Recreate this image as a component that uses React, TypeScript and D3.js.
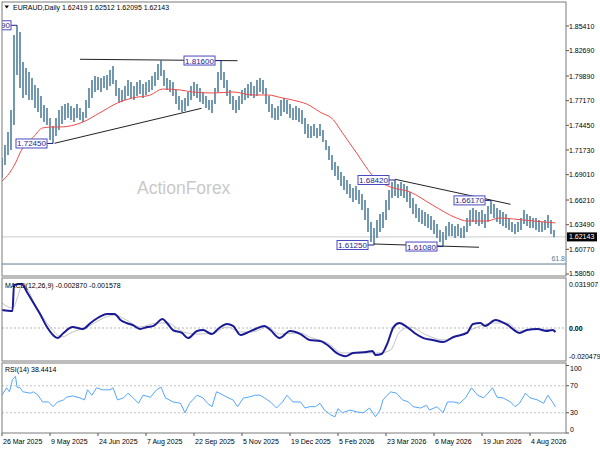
import React from 'react';
import * as d3 from 'd3';

const FONT = '"Liberation Sans", Arial, sans-serif';

// ---- data ----
const headerQuote = [1.62419, 1.62512, 1.62095, 1.62143];
const macdReadout = [-0.00287, -0.001578];
const rsiReadout = 38.4414;
const BARS_PER_POINT = 2; // each price point covers two daily sessions
const priceHighs = [
  1.7085,1.7228,1.7372,1.7614,1.8442,1.8549,1.8475,1.8144,1.8078,1.8034,
  1.7967,1.7890,1.7857,1.7769,1.7670,1.7636,1.7526,1.7438,1.7526,1.7614,
  1.7658,1.7681,1.7692,1.7658,1.7636,1.7681,1.7636,1.7592,1.7725,1.7857,
  1.7945,1.7989,1.7978,1.7967,1.7989,1.8001,1.8056,1.8100,1.7945,1.7857,
  1.7835,1.7879,1.7945,1.7923,1.7879,1.7923,1.7945,1.7901,1.7923,1.7945,
  1.7989,1.8034,1.8122,1.8160,1.8056,1.7967,1.7945,1.7923,1.7835,1.7769,
  1.7725,1.7747,1.7813,1.7879,1.7923,1.7901,1.7857,1.7813,1.7769,1.7725,
  1.7725,1.7857,1.8034,1.8158,1.8034,1.7945,1.7835,1.7769,1.7725,1.7769,
  1.7835,1.7857,1.7901,1.7923,1.7879,1.7945,1.7967,1.7945,1.7857,1.7769,
  1.7681,1.7636,1.7658,1.7725,1.7747,1.7725,1.7681,1.7636,1.7658,1.7636,
  1.7614,1.7526,1.7460,1.7438,1.7460,1.7416,1.7460,1.7394,1.7283,1.7217,
  1.7118,1.7041,1.6997,1.6930,1.6886,1.6842,1.6798,1.6754,1.6776,1.6732,
  1.6688,1.6621,1.6533,1.6379,1.6312,1.6401,1.6467,1.6489,1.6621,1.6732,
  1.6820,1.6842,1.6798,1.6820,1.6798,1.6776,1.6710,1.6643,1.6577,1.6533,
  1.6511,1.6489,1.6467,1.6445,1.6401,1.6357,1.6290,1.6268,1.6335,1.6379,
  1.6357,1.6335,1.6357,1.6312,1.6335,1.6423,1.6511,1.6533,1.6511,1.6489,
  1.6511,1.6467,1.6555,1.6617,1.6577,1.6533,1.6511,1.6489,1.6467,1.6423,
  1.6379,1.6357,1.6379,1.6423,1.6511,1.6467,1.6445,1.6423,1.6423,1.6401,
  1.6379,1.6401,1.6456,1.6401,1.6290,
];
const priceLows = [
  1.6864,1.7008,1.7118,1.7173,1.7449,1.8001,1.7857,1.7747,1.7780,1.7725,
  1.7725,1.7636,1.7592,1.7526,1.7482,1.7449,1.7283,1.7245,1.7328,1.7394,
  1.7460,1.7504,1.7526,1.7504,1.7482,1.7526,1.7504,1.7482,1.7526,1.7636,
  1.7747,1.7813,1.7835,1.7813,1.7857,1.7835,1.7879,1.7901,1.7769,1.7692,
  1.7703,1.7725,1.7769,1.7747,1.7725,1.7769,1.7791,1.7747,1.7780,1.7813,
  1.7835,1.7879,1.7945,1.7989,1.7879,1.7835,1.7813,1.7769,1.7681,1.7614,
  1.7592,1.7603,1.7658,1.7725,1.7769,1.7747,1.7703,1.7681,1.7636,1.7614,
  1.7581,1.7681,1.7813,1.7945,1.7857,1.7769,1.7681,1.7614,1.7581,1.7614,
  1.7681,1.7725,1.7747,1.7769,1.7747,1.7769,1.7813,1.7791,1.7681,1.7592,
  1.7526,1.7504,1.7504,1.7548,1.7592,1.7570,1.7526,1.7504,1.7504,1.7482,
  1.7460,1.7350,1.7305,1.7305,1.7328,1.7305,1.7328,1.7261,1.7173,1.7063,
  1.6952,1.6886,1.6842,1.6776,1.6732,1.6688,1.6643,1.6599,1.6621,1.6577,
  1.6511,1.6401,1.6268,1.6158,1.6125,1.6202,1.6268,1.6312,1.6401,1.6511,
  1.6643,1.6666,1.6643,1.6666,1.6643,1.6599,1.6533,1.6467,1.6423,1.6379,
  1.6357,1.6335,1.6312,1.6290,1.6246,1.6202,1.6158,1.6108,1.6180,1.6224,
  1.6224,1.6202,1.6224,1.6202,1.6202,1.6268,1.6335,1.6379,1.6357,1.6335,
  1.6357,1.6312,1.6379,1.6467,1.6423,1.6379,1.6357,1.6335,1.6312,1.6290,
  1.6268,1.6246,1.6268,1.6290,1.6357,1.6335,1.6312,1.6312,1.6290,1.6268,
  1.6268,1.6290,1.6312,1.6246,1.6210,
];

const maBars = [0,5,9,13,21,27,34,39,54,65,77,87,99,107,119,127,141,154,167,177,187,199,203,212,221,227,235,250,259,272,287,303,310,323,332,341,354,369];
const maValues = [1.6831,1.6919,1.7030,1.7173,1.7316,1.7416,1.7427,1.7427,1.7482,1.7581,1.7692,1.7747,1.7780,1.7846,1.7835,1.7813,1.7802,1.7813,1.7780,1.7780,1.7747,1.7703,1.7681,1.7592,1.7504,1.7361,1.7173,1.6842,1.6765,1.6710,1.6566,1.6423,1.6390,1.6390,1.6423,1.6412,1.6390,1.6368];

const macdBars = [0,7,8,13,17,21,25,30,34,37,41,47,54,59,65,70,75,79,83,87,92,97,101,107,110,114,120,124,130,134,140,144,150,154,159,163,169,175,179,185,192,199,205,212,217,223,229,234,243,247,249,253,257,261,265,270,275,281,287,294,301,310,314,319,322,329,337,345,350,357,363,367,369];
const macdMain = [0.0131,0.0123,0.0312,0.0319,0.0254,0.0181,0.0109,0.0007,-0.0051,-0.0073,-0.0036,0.0007,-0.0007,0.0036,0.0080,0.0102,0.0102,0.0058,0.0036,0.0022,-0.0007,0.0007,0.0015,0.0065,0.0036,-0.0015,-0.0036,-0.0073,-0.0022,-0.0015,-0.0044,-0.0007,0.0029,0.0015,-0.0051,-0.0036,-0.0007,0.0015,-0.0015,-0.0073,-0.0022,-0.0044,-0.0087,-0.0094,-0.0123,-0.0181,-0.0205,-0.0181,-0.0174,-0.0167,-0.0196,-0.0189,-0.0109,0.0007,0.0036,0.0007,-0.0036,-0.0073,-0.0087,-0.0102,-0.0065,-0.0036,0.0029,0.0036,0.0015,0.0058,0.0022,-0.0036,-0.0015,-0.0007,-0.0022,-0.0015,-0.0029];
const signalBars = [0,7,14,23,32,40,47,57,65,75,83,92,103,110,121,130,141,150,159,167,177,185,199,205,217,227,243,252,259,265,272,283,294,305,317,327,337,345,354,369];
const signalValues = [0.0181,0.0145,0.0312,0.0152,0.0007,-0.0065,-0.0029,0.0007,0.0058,0.0094,0.0058,0.0007,0.0036,0.0036,-0.0029,-0.0044,-0.0036,0.0007,-0.0029,-0.0029,0.0007,-0.0044,-0.0036,-0.0065,-0.0109,-0.0181,-0.0181,-0.0181,-0.0160,-0.0029,0.0007,-0.0051,-0.0087,-0.0051,0.0007,0.0036,0.0036,-0.0022,-0.0007,-0.0016];

const rsiBars = [0,3,5,7,9,10,12,14,19,21,24,27,31,34,37,41,43,47,52,55,57,60,63,67,72,74,77,81,84,87,91,94,99,103,106,109,114,119,122,125,130,134,137,140,143,145,150,154,157,161,164,169,172,175,179,183,187,190,194,199,202,205,209,212,215,219,222,224,227,232,237,241,245,249,252,254,259,263,267,271,274,279,283,285,290,294,297,301,305,309,313,317,321,324,327,330,334,339,342,345,349,352,357,361,364,367,369];
const rsiValues = [56,67,61,79,84,68,67,61,59,61,56,46,46,39,46,49,53,55,52,49,64,56,67,64,64,67,49,52,59,53,44,56,53,64,68,52,46,44,30,44,56,52,44,39,61,59,53,49,39,52,53,56,56,52,46,37,46,56,46,46,37,39,39,44,34,27,24,36,30,34,31,30,37,24,34,49,61,59,49,46,39,37,41,34,39,30,46,46,44,52,67,56,52,59,67,53,52,46,39,44,59,52,49,44,56,46,38.44];

const priceTicks = [1.8541,1.8269,1.7989,1.7717,1.7445,1.7173,1.6901,1.6621,1.6349,1.6077,1.5805];
const macdTicks = [0.031907, 0, -0.020479];
const rsiTicks = [100, 70, 30, 0];
const rsiLevels = [70, 30];
const fibLevel = 1.5915;
const fibLabel = '61.8';

const dateLabels = ['26 Mar 2025','9 May 2025','24 Jun 2025','7 Aug 2025','22 Sep 2025','5 Nov 2025','19 Dec 2025','5 Feb 2026','23 Mar 2026','6 May 2026','19 Jun 2026','4 Aug 2026'];
const dateBars = [0,32,64,96,128,160,192,224,256,288,320,352];

const extremeBars = [10,34,146,248,262,294,326];
const extremePrices = [1.8549,1.7245,1.8160,1.6125,1.6842,1.6108,1.6617];

const trendFromBars = [52,35,262,248];
const trendFromPrices = [1.8174,1.7247,1.6850,1.6136];
const trendToBars = [157,133,339,318];
const trendToPrices = [1.8158,1.7633,1.6574,1.6100];

// ---- layout ----
const L = 2, R = 566;
const MAIN = [2, 276];
const MACDP = [278, 361];
const RSIP = [363, 433];

export default function App() {
  const x = d3.scaleLinear().domain([0, 369]).range([2, 555.5]);
  const yP = d3.scaleLinear().domain([1.57829, 1.88059]).range([MAIN[1], MAIN[0]]);
  const yM = d3.scaleLinear().domain([-0.02393, 0.03626]).range([MACDP[1], MACDP[0]]);
  const yR = d3.scaleLinear().domain([0, 100]).range([RSIP[1], 365.5]);

  const maLine = d3.line<number>().x((_, i) => x(maBars[i])).y(d => yP(d)).curve(d3.curveMonotoneX);
  const macdLine = d3.line<number>().x((_, i) => x(macdBars[i])).y(d => yM(d)).curve(d3.curveMonotoneX);
  const sigLine = d3.line<number>().x((_, i) => x(signalBars[i])).y(d => yM(d)).curve(d3.curveMonotoneX);
  const rsiLine = d3.line<number>().x((_, i) => x(rsiBars[i])).y(d => yR(d));

  const last = headerQuote[3];
  const fmt = (v: number) => v.toFixed(5);

  return (
    <svg width={600} height={450} style={{ position: 'fixed', left: 0, top: 0, background: '#fff' }} fontFamily={FONT}>
      <defs>
        <clipPath id="mainClip"><rect x={L} y={MAIN[0]} width={R - L} height={MAIN[1] - MAIN[0]} /></clipPath>
        <clipPath id="macdClip"><rect x={L} y={MACDP[0]} width={R - L} height={MACDP[1] - MACDP[0]} /></clipPath>
        <clipPath id="rsiClip"><rect x={L} y={RSIP[0]} width={R - L} height={RSIP[1] - RSIP[0]} /></clipPath>
      </defs>
      <rect x={0} y={0} width={600} height={450} fill="#fff" />

      {/* main panel */}
      <g clipPath="url(#mainClip)">
        <text x={137} y={194} fontSize={17.5} fill="#c9c9c9">ActionForex</text>
        <line x1={L} x2={R} y1={yP(last)} y2={yP(last)} stroke="#cccccc" strokeWidth={1} />
        <line x1={L} x2={R} y1={yP(fibLevel)} y2={yP(fibLevel)} stroke="#5f7c8c" strokeWidth={1} />
        <text x={R - 1} y={yP(fibLevel) - 3} fontSize={7} fill="#5a7a90" textAnchor="end">{fibLabel}</text>
        {priceHighs.map((h, j) => (
          <line key={j} x1={x(j * BARS_PER_POINT)} x2={x(j * BARS_PER_POINT)} y1={yP(h)} y2={yP(priceLows[j])}
            stroke="#5a87a4" strokeWidth={1.7} />
        ))}
        <path d={maLine(maValues) || ''} fill="none" stroke="#f04a4a" strokeWidth={1} />
        {trendFromBars.map((b, i) => (
          <line key={i} x1={x(b)} y1={yP(trendFromPrices[i])} x2={x(trendToBars[i])} y2={yP(trendToPrices[i])}
            stroke="#222" strokeWidth={1} />
        ))}
        {extremeBars.map((b, i) => {
          const px = x(b), py = yP(extremePrices[i]);
          const bx = px - 6 - 31;
          return (
            <g key={i}>
              <line x1={bx + 31} x2={px} y1={py} y2={py} stroke="#22228a" strokeWidth={1} />
              <rect x={bx} y={py - 4.5} width={31} height={9} fill="#fff" stroke="#4a4ac0" strokeWidth={1} />
              <text x={bx + 15.5} y={py + 3} fontSize={8} fill="#1e1e8c" textAnchor="middle">{fmt(extremePrices[i])}</text>
            </g>
          );
        })}
      </g>
      <rect x={L} y={MAIN[0]} width={R - L} height={MAIN[1] - MAIN[0]} fill="none" stroke="#7a7a7a" strokeWidth={1} />
      <path d="M4.5,5.5 L9,5.5 L6.75,8.5 Z" fill="#000" />
      <text x={13} y={10} fontSize={7} fill="#000">{'EURAUD,Daily  ' + headerQuote.map(fmt).join(' ')}</text>
      {priceTicks.map((t, i) => (
        <g key={i}>
          <line x1={R} x2={R + 3} y1={yP(t)} y2={yP(t)} stroke="#555" />
          <text x={R + 3} y={yP(t) + 2.5} fontSize={7} fill="#000">{fmt(t)}</text>
        </g>
      ))}
      <rect x={R + 1} y={yP(last) - 4.5} width={30} height={9} fill="#000" />
      <text x={R + 3} y={yP(last) + 2.5} fontSize={7} fill="#fff">{fmt(last)}</text>

      {/* MACD panel */}
      <g clipPath="url(#macdClip)">
        <line x1={L} x2={R} y1={yM(0)} y2={yM(0)} stroke="#b5b5b5" strokeDasharray="2,2" />
        <path d={sigLine(signalValues) || ''} fill="none" stroke="#c4c4c4" strokeWidth={1} />
        <path d={macdLine(macdMain) || ''} fill="none" stroke="#1a1a96" strokeWidth={2} />
      </g>
      <rect x={L} y={MACDP[0]} width={R - L} height={MACDP[1] - MACDP[0]} fill="none" stroke="#7a7a7a" strokeWidth={1} />
      <text x={5} y={288} fontSize={7} fill="#000">{`MACD(12,26,9) ${macdReadout[0].toFixed(6)} ${macdReadout[1].toFixed(6)}`}</text>
      {macdTicks.map((t, i) => (
        <text key={i} x={R + 3} y={yM(t) + 2.5} fontSize={7} fill="#000" fontWeight={t === 0 ? 'bold' : 'normal'}>{t === 0 ? '0.00' : t.toFixed(6)}</text>
      ))}

      {/* RSI panel */}
      <g clipPath="url(#rsiClip)">
        {rsiLevels.map((l, i) => (
          <line key={i} x1={L} x2={R} y1={yR(l)} y2={yR(l)} stroke="#c4c4c4" strokeDasharray="2,2" />
        ))}
        <path d={rsiLine(rsiValues) || ''} fill="none" stroke="#55a5ff" strokeWidth={1} />
      </g>
      <rect x={L} y={RSIP[0]} width={R - L} height={RSIP[1] - RSIP[0]} fill="none" stroke="#7a7a7a" strokeWidth={1} />
      <text x={5} y={372} fontSize={7} fill="#000">{`RSI(14) ${rsiReadout.toFixed(4)}`}</text>
      {rsiTicks.map((t, i) => {
        const yy = Math.min(Math.max(yR(t), 368), 429);
        return (
          <g key={i}>
            <line x1={R} x2={R + 3} y1={yR(t)} y2={yR(t)} stroke="#555" />
            <text x={R + 4} y={yy + 2.5} fontSize={7} fill="#000">{String(t)}</text>
          </g>
        );
      })}

      {/* date axis */}
      {dateBars.map((b, i) => (
        <g key={i}>
          <line x1={x(b)} x2={x(b)} y1={RSIP[1]} y2={RSIP[1] + 3} stroke="#555" />
          <text x={x(b) + 1} y={444} fontSize={7} fill="#000">{dateLabels[i]}</text>
        </g>
      ))}
    </svg>
  );
}
